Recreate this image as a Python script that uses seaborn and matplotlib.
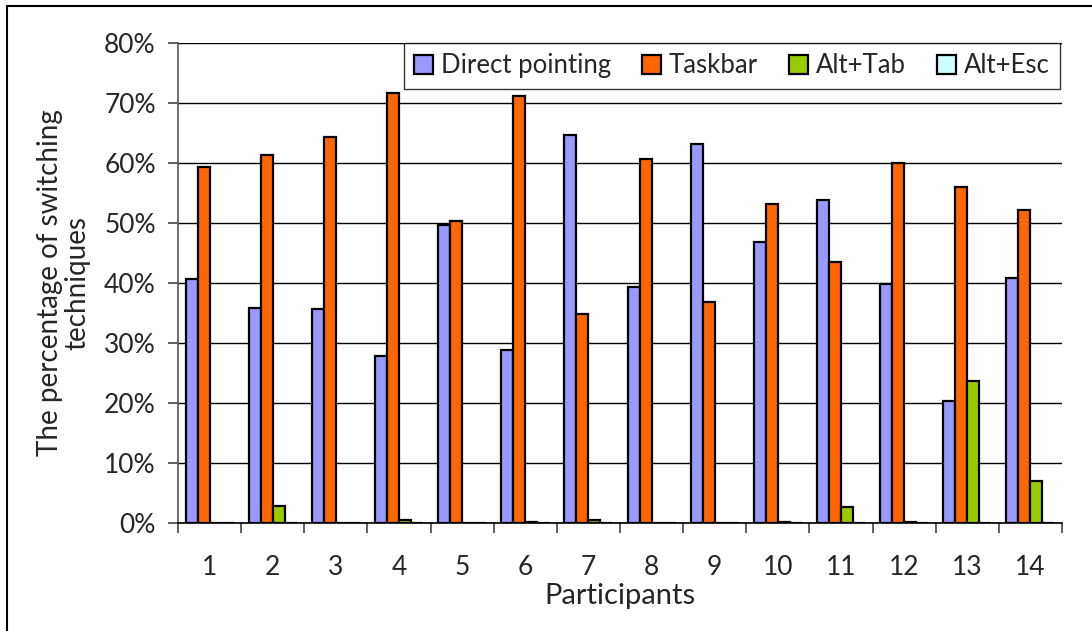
import matplotlib
matplotlib.use("Agg")
import matplotlib.pyplot as plt
import matplotlib.ticker as mticker
from matplotlib.lines import Line2D
import seaborn as sns
import pandas as pd

participants = [str(i) for i in range(1, 15)]
direct_pointing = [40.7, 35.9, 35.7, 27.9, 49.7, 28.8, 64.6, 39.3, 63.1, 46.8, 53.8, 39.9, 20.3, 40.9]
taskbar = [59.3, 61.3, 64.3, 71.6, 50.3, 71.1, 34.9, 60.7, 36.9, 53.1, 43.5, 60.0, 56.0, 52.1]
alt_tab = [0.0, 2.8, 0.0, 0.5, 0.0, 0.1, 0.5, 0.0, 0.0, 0.1, 2.7, 0.1, 23.7, 7.0]
alt_esc = [0.0] * 14
series_names = ["Direct pointing", "Taskbar", "Alt+Tab", "Alt+Esc"]
series_colors = ["#9999FF", "#FF6600", "#99CC00", "#CCFFFF"]
y_ticks = [0, 10, 20, 30, 40, 50, 60, 70, 80]

rows = []
for name, vals in zip(series_names, [direct_pointing, taskbar, alt_tab, alt_esc]):
    for p, v in zip(participants, vals):
        rows.append({"Participant": p, "Percent": v, "Technique": name})
df = pd.DataFrame(rows)

sns.set_style("white")
plt.rcParams["font.family"] = ["Lato", "DejaVu Sans"]

fig = plt.figure(figsize=(10.92, 6.31), dpi=100)
ax = fig.add_axes([178 / 1092, 1 - 523 / 631, (1062 - 178) / 1092, (523 - 43) / 631])

sns.barplot(data=df, x="Participant", y="Percent", hue="Technique",
            order=participants, hue_order=series_names, palette=series_colors,
            width=0.76, saturation=1, edgecolor="black", linewidth=1.6,
            errorbar=None, ax=ax, zorder=3)

ax.set_xlim(-0.5, 13.5)
ax.set_ylim(0, 80)
ax.set_yticks(y_ticks)
ax.yaxis.set_major_formatter(mticker.FuncFormatter(lambda v, p: f"{v:.0f}%"))
ax.yaxis.grid(True, color="black", linewidth=1.0, zorder=0)
ax.set_axisbelow(True)

ax.set_xticks(range(14))
ax.set_xticks([i - 0.5 for i in range(15)], minor=True)
ax.tick_params(axis="x", which="major", length=0, pad=23, labelsize=19)
ax.tick_params(axis="x", which="minor", length=7, width=1.2, color="#444444", direction="out", bottom=True)
ax.tick_params(axis="y", which="major", length=7, width=1.2, color="#444444", direction="out", left=True, pad=9, labelsize=19)

for side in ["top", "right"]:
    ax.spines[side].set_visible(False)
ax.spines["left"].set_color("#555555")
ax.spines["left"].set_linewidth(1.2)
ax.spines["bottom"].set_color("black")
ax.spines["bottom"].set_linewidth(1.2)

ax.set_xlabel("Participants", fontsize=21, labelpad=2)
ax.set_ylabel("The percentage of switching\ntechniques", fontsize=20, labelpad=10, linespacing=1.05)

leg = ax.get_legend()
if leg is not None:
    leg.remove()
handles = [plt.Rectangle((0, 0), 1, 1, facecolor=c, edgecolor="black", linewidth=1.6) for c in series_colors]
legend = ax.legend(handles, series_names, ncol=4, loc="upper right",
                   bbox_to_anchor=(1060 / 1092, 1 - 43 / 631), bbox_transform=fig.transFigure,
                   borderaxespad=0, fontsize=18.5, frameon=True, fancybox=False,
                   handlelength=0.75, handleheight=0.75, handletextpad=0.3,
                   columnspacing=1.2, borderpad=0.4)
legend.get_frame().set_edgecolor("black")
legend.get_frame().set_linewidth(1.0)
legend.set_zorder(10)

x0 = 7 / 1092
y0 = 1 - 6 / 631
fig.add_artist(Line2D([x0, x0], [0, y0], transform=fig.transFigure, color="black", linewidth=1.5))
fig.add_artist(Line2D([x0, 1], [y0, y0], transform=fig.transFigure, color="black", linewidth=1.5))

fig.savefig("out.png", dpi=100)
